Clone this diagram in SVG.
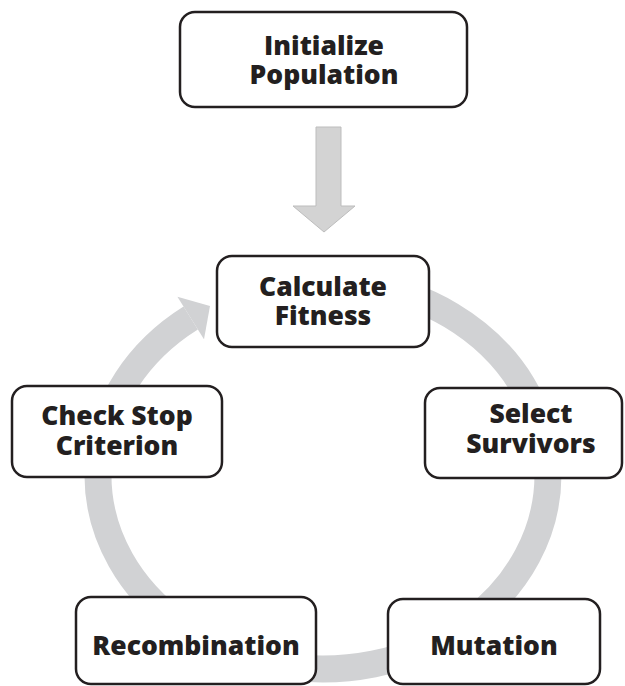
<svg xmlns="http://www.w3.org/2000/svg" width="625" height="686" viewBox="0 0 625 686">
<style>
.box{fill:#fff;stroke:#231f20;stroke-width:2.5}
.lbl{font-family:"Open Sans","DejaVu Sans",sans-serif;font-weight:800;font-size:26.5px;fill:#231f20;text-anchor:middle}
.ring{fill:none;stroke:#d1d2d4;stroke-width:27}
</style>
<rect width="625" height="686" fill="#fff"/>
<g id="connectors">
<path class="ring" d="M362.1,283.9 A225,194 0 1 1 190.7,318"/>
<polygon points="177.4,296.8 210,306 204,339.2" fill="#d1d2d4"/>
<polygon points="316,127 341,127 341,206 355,206 324,232 293,206 316,206" fill="#d3d3d3" stroke="#bdbdbd" stroke-width="1"/>
</g>
<g id="initialize">
<rect class="box" x="180" y="12" width="287" height="95" rx="15"/>
<text class="lbl" x="324" y="55">Initialize</text>
<text class="lbl" x="324" y="84">Population</text>
</g>
<g id="fitness">
<rect class="box" x="217" y="256" width="212" height="91" rx="15"/>
<text class="lbl" x="323" y="296">Calculate</text>
<text class="lbl" x="323" y="325">Fitness</text>
</g>
<g id="select">
<rect class="box" x="425" y="388" width="197" height="90" rx="15"/>
<text class="lbl" x="531" y="423">Select</text>
<text class="lbl" x="531" y="453">Survivors</text>
</g>
<g id="check">
<rect class="box" x="12" y="386" width="210" height="91" rx="15"/>
<text class="lbl" x="117" y="425">Check Stop</text>
<text class="lbl" x="117" y="455">Criterion</text>
</g>
<g id="recombination">
<rect class="box" x="76" y="597" width="240" height="87" rx="15"/>
<text class="lbl" x="196" y="655">Recombination</text>
</g>
<g id="mutation">
<rect class="box" x="388" y="599" width="212" height="85" rx="15"/>
<text class="lbl" x="494" y="655">Mutation</text>
</g>
</svg>
